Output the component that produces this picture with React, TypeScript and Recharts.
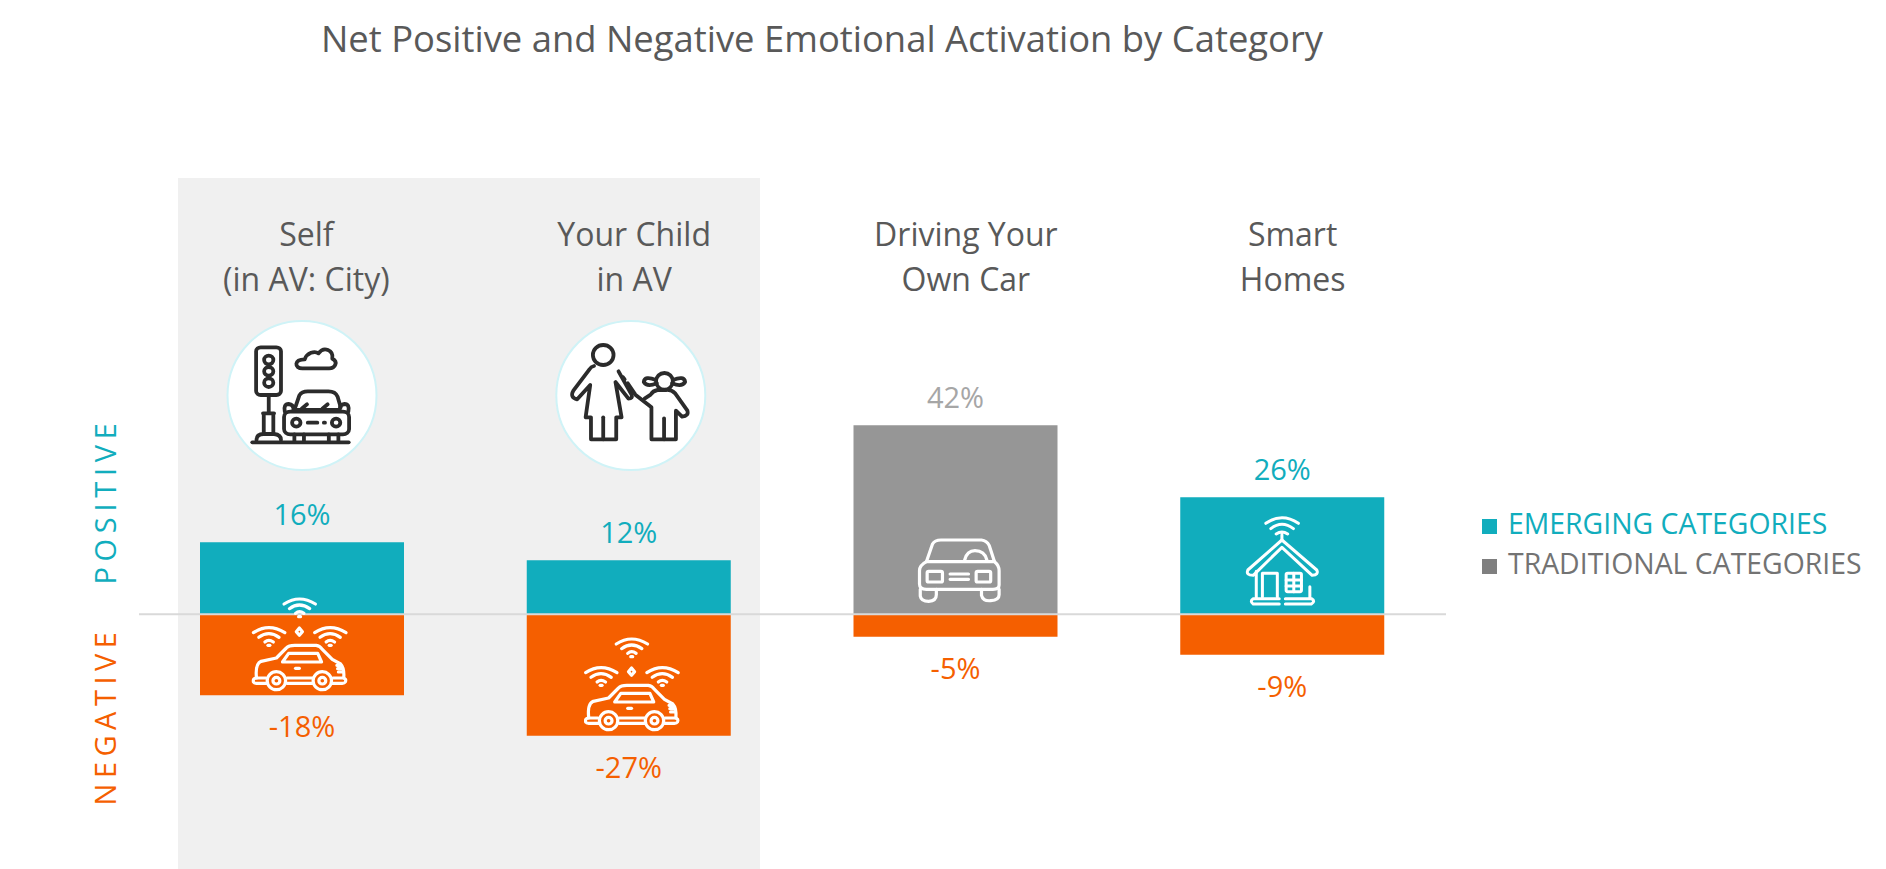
import React from "react";
import { BarChart, Bar, Cell, XAxis, YAxis, ReferenceLine, LabelList } from "recharts";

const categories = ["Self|(in AV: City)", "Your Child|in AV", "Driving Your|Own Car", "Smart|Homes"];
const positiveValues = [16, 12, 42, 26];
const negativeValues = [-18, -27, -5, -9];
const categoryGroups = ["emerging", "emerging", "traditional", "emerging"];

const TEAL = "#11ADBD";
const ORANGE = "#F55F00";
const GREY_BAR = "#969696";
const GREY_LABEL = "#A6A6A6";
const TEXT = "#595959";
const FONT = "'Open Sans', sans-serif";

const data = categories.map((name, i) => ({
  name,
  positive: positiveValues[i],
  negative: negativeValues[i],
}));

// the category titles sit a little right of their bars in the original
const tickShift = [4, 5, 10, 10];

const CategoryTick = (props: any) => {
  const { x, payload, index } = props;
  const lines = String(payload.value).split("|");
  return (
    <g>
      {lines.map((line, i) => (
        <text
          key={line}
          x={x + tickShift[index ?? 0]}
          y={246 + i * 45}
          textAnchor="middle"
          fontFamily={FONT}
          fontSize={32}
          fill={TEXT}
        >
          {line}
        </text>
      ))}
    </g>
  );
};

const PositiveLabel = (props: any) => {
  const { x, y, width, height, value, index } = props;
  const top = Math.min(y, y + height);
  const fill = categoryGroups[index] === "traditional" ? GREY_LABEL : TEAL;
  return (
    <text x={x + width / 2} y={top - 17} textAnchor="middle" fontFamily={FONT} fontSize={29} fill={fill}>
      {value}%
    </text>
  );
};

const NegativeLabel = (props: any) => {
  const { x, y, width, height, value } = props;
  const bottom = Math.max(y, y + height);
  return (
    <text x={x + width / 2} y={bottom + 42} textAnchor="middle" fontFamily={FONT} fontSize={29} fill={ORANGE}>
      {value}%
    </text>
  );
};

// line icons, traced in the coordinates of the zoomed crop and scaled back down
const line = { fill: "none", strokeLinecap: "round", strokeLinejoin: "round", vectorEffect: "non-scaling-stroke" } as any;

const Wifi = ({ x, y }: { x: number; y: number }) => (
  <g transform={`translate(${x} ${y})`}>
    <path d="M-40 -22 Q0 -52 42 -22" {...line} />
    <path d="M-26 -8 Q0 -30 27 -8" {...line} />
    <path d="M-10 6 Q0 -4 12 6" {...line} />
    <path d="M-2 16 L3 16" {...line} />
  </g>
);

const ConnectedCar = ({ dx = 0, dy = 0 }: { dx?: number; dy?: number }) => (
  <g transform={`translate(${dx} ${dy})`} stroke="#fff" strokeWidth={3.2}>
    <Wifi x={338} y={934} />
    <Wifi x={258} y={1020} />
    <Wifi x={418} y={1020} />
    <path d="M338 984 L346 995 L338 1006 L330 995 Z" {...line} />
    <path d="M226 1134 Q222 1092 238 1084 L278 1074 L304 1044 Q310 1036 326 1036 H382 Q392 1038 398 1048 L424 1078 L446 1092 Q456 1104 454 1134" {...line} />
    <path d="M294 1086 L310 1060 H386 L396 1086 Z" {...line} />
    <path d="M218 1146 Q216 1134 226 1134 H250 M306 1134 H372 M426 1134 H452 Q462 1136 458 1146 Q456 1150 450 1150 H424 M372 1150 H306 M252 1150 H226 Q220 1150 218 1146" {...line} />
    <ellipse cx={278} cy={1142} rx={24} ry={27} {...line} />
    <ellipse cx={278} cy={1142} rx={9} ry={10} {...line} />
    <ellipse cx={398} cy={1142} rx={24} ry={27} {...line} />
    <ellipse cx={398} cy={1142} rx={9} ry={10} {...line} />
    <path d="M328 1105 L338 1105" {...line} />
    <path d="M436 1096 H446 M438 1106 H450 M440 1116 H452" {...line} />
  </g>
);

const TrafficIcon = () => (
  <g stroke="#2B2B2B" strokeWidth={3.8}>
    <rect x={225} y={142} width={65} height={143} rx={12} ry={12} {...line} />
    <ellipse cx={258} cy={180} rx={12} ry={13} {...line} />
    <ellipse cx={258} cy={214} rx={12} ry={13} {...line} />
    <ellipse cx={258} cy={248} rx={12} ry={13} {...line} />
    <path d="M258 285 V340 M243 340 H272 M245 340 V402 M270 340 V402 M226 420 Q226 402 245 402 H272 Q290 404 290 420" {...line} />
    <path d="M215 427 H467" {...line} />
    <path d="M346 205 C324 205 324 178 352 178 C358 158 378 152 388 160 C402 138 428 150 424 176 C440 184 432 205 416 205 Z" {...line} />
    <path d="M328 320 L338 286 Q344 274 360 274 H414 Q432 274 438 290 L446 322" {...line} />
    <rect x={298} y={335} width={170} height={68} rx={16} ry={16} {...line} />
    <path d="M300 335 Q296 312 310 312 Q322 314 322 324 M466 335 Q470 312 456 312 Q444 314 444 324 M322 330 H444" {...line} />
    <path d="M344 326 L358 313 M398 326 L412 313" {...line} />
    <ellipse cx={330} cy={368} rx={11} ry={12} {...line} />
    <ellipse cx={434} cy={368} rx={11} ry={12} {...line} />
    <path d="M360 368 H385 M402 368 H405" {...line} />
    <path d="M325 403 V425 M350 403 V425 M415 403 V425 M440 403 V425" {...line} />
  </g>
);

const FamilyIcon = () => (
  <g stroke="#2B2B2B" strokeWidth={3.8}>
    <ellipse cx={1132} cy={165} rx={27} ry={30} {...line} />
    <path d="M1108 198 Q1100 200 1096 208 L1054 272 Q1044 292 1064 298 L1098 255 L1086 352 H1100 V418 H1166 V352 H1180 L1164 246 L1198 296 Q1210 296 1206 284 L1172 214" {...line} />
    <path d="M1132 352 V418" {...line} />
    <path d="M1184 232 L1188 238 M1196 250 L1216 284 L1258 322 V418 H1322 V332 L1338 350 Q1356 348 1352 332 L1320 280 Q1310 268 1296 270 H1274 Q1262 272 1256 284 L1240 296" {...line} />
    <path d="M1291 355 V418" {...line} />
    <ellipse cx={1292} cy={244} rx={22} ry={25} {...line} />
    <path d="M1270 240 Q1240 226 1238 246 Q1246 262 1272 250 M1314 240 Q1344 226 1346 246 Q1338 262 1312 250" {...line} />
  </g>
);

const FrontCar = () => (
  <g stroke="#fff" strokeWidth={3.2}>
    <path d="M278 545 L294 492 Q300 480 316 480 H422 Q436 482 442 496 L456 545" {...line} />
    <path d="M278 545 H456 Q468 556 468 572 V615 Q468 628 452 628 H278 Q260 628 260 612 V572 Q260 556 278 545 Z" {...line} />
    <path d="M262 628 V648 Q264 664 284 664 Q304 662 304 644 V628 M422 628 V646 Q426 664 446 662 Q468 660 468 644 V628" {...line} />
    <rect x={280} y={574} width={40} height={32} rx={4} ry={4} {...line} />
    <rect x={408} y={574} width={38} height={32} rx={4} ry={4} {...line} />
    <path d="M340 582 H388 M340 598 H388" {...line} />
    <path d="M378 540 Q384 512 405 512 Q430 512 436 540" {...line} />
  </g>
);

const SmartHome = () => (
  <g stroke="#fff" strokeWidth={3}>
    <path d="M1165 430 Q1207 396 1250 430 M1178 446 Q1207 420 1237 446 M1192 462 Q1207 450 1222 462 M1207 464 V478" {...line} />
    <path d="M1118 570 L1207 480 L1298 570 Q1304 584 1286 586 L1207 502 L1132 586 Q1112 586 1118 570 Z" {...line} />
    <path d="M1140 574 V655 M1280 620 V655" {...line} />
    <path d="M1200 656 H1132 Q1122 664 1132 672 H1200 M1216 656 H1284 Q1296 664 1284 672 H1216" {...line} />
    <path d="M1156 650 V580 H1195 V650" {...line} />
    <rect x={1218} y={580} width={40} height={55} rx={4} ry={4} {...line} />
    <path d="M1238 580 V635 M1218 600 H1258 M1218 618 H1258" {...line} />
  </g>
);

const legendItems = [
  { label: "EMERGING CATEGORIES", text: TEAL, box: TEAL },
  { label: "TRADITIONAL CATEGORIES", text: "#737373", box: "#7F7F7F" },
];

export default function App() {
  return (
    <div style={{ position: "absolute", left: 0, top: 0, width: 1886, height: 869, overflow: "hidden", background: "#fff" }}>
      <div style={{ position: "absolute", left: 178, top: 178, width: 582, height: 691, background: "#F0F0F0" }} />
      <div style={{ position: "absolute", left: 0, top: 0 }}>
        <BarChart
          width={1886}
          height={869}
          data={data}
          barSize={204}
          stackOffset="sign"
          margin={{ top: 163.3, right: 440, bottom: 29.7, left: 139 }}
          style={{ background: "transparent" }}
        >
          <XAxis dataKey="name" orientation="top" height={1} axisLine={false} tickLine={false} interval={0} tick={<CategoryTick />} />
          <YAxis hide domain={[-50, 100]} />
          <Bar dataKey="positive" stackId="a" isAnimationActive={false}>
            {categories.map((c, i) => (
              <Cell key={c} fill={categoryGroups[i] === "traditional" ? GREY_BAR : TEAL} />
            ))}
            <LabelList dataKey="positive" content={<PositiveLabel />} />
          </Bar>
          <Bar dataKey="negative" stackId="a" fill={ORANGE} isAnimationActive={false}>
            <LabelList dataKey="negative" content={<NegativeLabel />} />
          </Bar>
          <ReferenceLine y={0} stroke="#D9D9D9" strokeWidth={2} />
        </BarChart>
      </div>
      <svg width={1886} height={869} style={{ position: "absolute", left: 0, top: 0, pointerEvents: "none" }}>
        <text x={822} y={52} textAnchor="middle" fontFamily={FONT} fontSize={36.4} fill={TEXT}>
          Net Positive and Negative Emotional Activation by Category
        </text>
        <text transform="translate(116 501) rotate(-90)" textAnchor="middle" fontFamily={FONT} fontSize={29} letterSpacing={5.7} fill={TEAL}>
          POSITIVE
        </text>
        <text transform="translate(116 716) rotate(-90)" textAnchor="middle" fontFamily={FONT} fontSize={29} letterSpacing={5.5} fill={ORANGE}>
          NEGATIVE
        </text>
        <circle cx={302} cy={395.5} r={74.5} fill="#fff" stroke="#CFF3F7" strokeWidth={2} />
        <circle cx={630.8} cy={395.5} r={74.5} fill="#fff" stroke="#CFF3F7" strokeWidth={2} />
        <g transform={`translate(170 300) scale(${1 / 2.613} ${1 / 3})`}>
          <TrafficIcon />
          <FamilyIcon />
          <ConnectedCar />
          <ConnectedCar dx={868} dy={120} />
        </g>
        <g transform={`translate(820 380) scale(${1 / 2.613} ${1 / 3})`}>
          <FrontCar />
          <SmartHome />
        </g>
        {legendItems.map((item, i) => (
          <g key={item.label}>
            <rect x={1482} y={519 + i * 40} width={15} height={15} fill={item.box} />
            <text x={1508} y={534 + i * 40} fontFamily={FONT} fontSize={28.4} fill={item.text}>
              {item.label}
            </text>
          </g>
        ))}
      </svg>
    </div>
  );
}
